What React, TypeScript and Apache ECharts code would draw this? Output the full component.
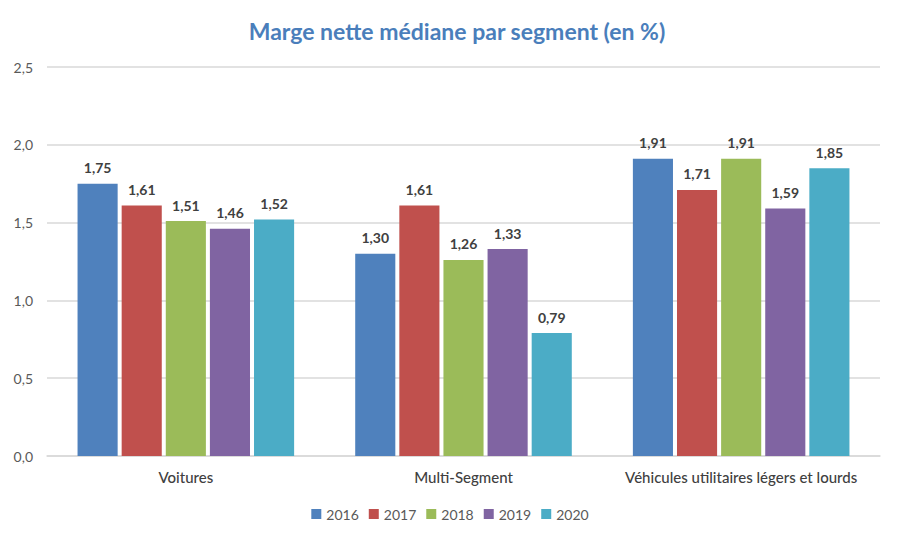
import { useEffect, useRef } from "react";
import * as echarts from "echarts";

const categories = ["Voitures", "Multi-Segment", "Véhicules utilitaires légers et lourds"];
const years = ["2016", "2017", "2018", "2019", "2020"];
const values2016 = [1.75, 1.3, 1.91];
const values2017 = [1.61, 1.61, 1.71];
const values2018 = [1.51, 1.26, 1.91];
const values2019 = [1.46, 1.33, 1.59];
const values2020 = [1.52, 0.79, 1.85];
const seriesValues = [values2016, values2017, values2018, values2019, values2020];

// palette Office 2007
const COLORS = ["#4F81BD", "#C0504D", "#9BBB59", "#8064A2", "#4BACC6"];
const FONT = "Lato, 'DejaVu Sans Condensed', sans-serif";

const fmt = (v: number, d: number) => v.toFixed(d).replace(".", ",");

function buildOption(): echarts.EChartsOption {
  return {
    animation: false,
    color: COLORS,
    textStyle: { fontFamily: FONT },
    title: {
      text: "Marge nette médiane par segment (en %)",
      left: 452,
      textAlign: "center",
      top: 14,
      textStyle: { color: "#4A7EBB", fontSize: 23, fontWeight: "bold", fontFamily: FONT },
    },
    legend: {
      data: years,
      bottom: 15,
      left: "center",
      itemWidth: 10,
      itemHeight: 10,
      itemGap: 10,
      icon: "rect",
      textStyle: { color: "#595959", fontSize: 14, fontFamily: FONT },
    },
    grid: { left: 47, right: 20, top: 67, bottom: 85, containLabel: false },
    xAxis: {
      type: "category",
      data: categories,
      axisLine: { lineStyle: { color: "#D9D9D9", width: 1.5 } },
      axisTick: { show: false },
      axisLabel: {
        interval: 0,
        color: "#404040",
        fontSize: 15,
        margin: 13,
        fontWeight: 500,
        fontFamily: FONT,
      },
    },
    yAxis: {
      type: "value",
      min: 0,
      max: 2.5,
      interval: 0.5,
      axisLine: { show: false },
      axisTick: { show: false },
      splitLine: { lineStyle: { color: "#D9D9D9", width: 1.5 } },
      axisLabel: {
        color: "#595959",
        fontSize: 14,
        margin: 14,
        fontFamily: FONT,
        formatter: (v: number) => fmt(v, 1),
      },
    },
    series: seriesValues.map((vals, i) => ({
      name: years[i],
      type: "bar",
      data: vals,
      barGap: "10%",
      barCategoryGap: "22%",
      label: {
        show: true,
        position: "top",
        distance: 9,
        color: "#404040",
        fontSize: 14,
        fontWeight: "bold",
        fontFamily: FONT,
        formatter: (p: any) => fmt(p.value as number, 2),
      },
    })),
  };
}

export default function App() {
  const ref = useRef<HTMLDivElement | null>(null);

  useEffect(() => {
    const el = ref.current;
    if (!el) return;
    const chart = echarts.init(el, undefined, { renderer: "svg" });
    chart.setOption(buildOption());
    return () => chart.dispose();
  }, []);

  return (
    <div
      ref={ref}
      style={{ position: "fixed", left: 0, top: 0, width: 900, height: 541, background: "#fff" }}
    />
  );
}
